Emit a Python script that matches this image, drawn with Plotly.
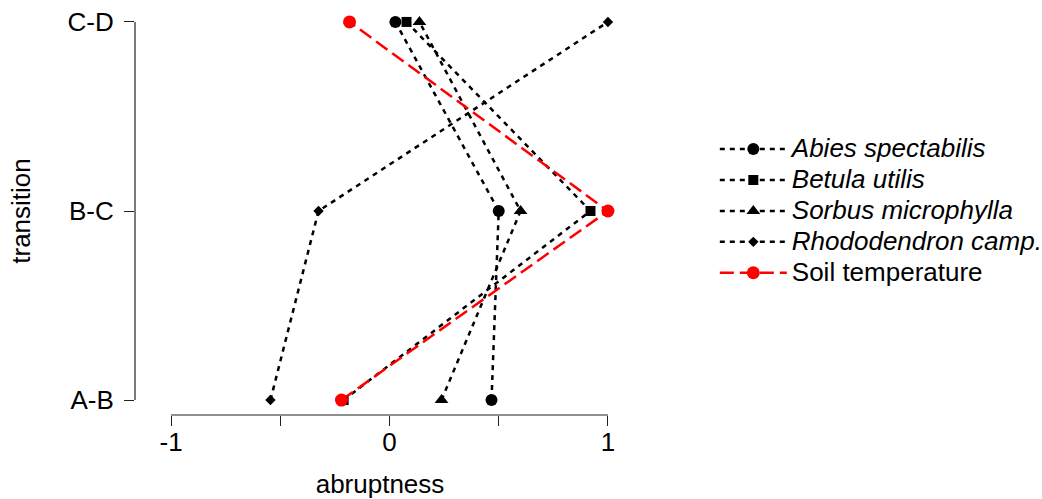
import plotly.graph_objects as go

# Transitions along the gradient (bottom to top)
transitions = ["A-B", "B-C", "C-D"]
trans_pos = [0, 1, 2]

# Abruptness of each transition per series
abies = [0.467, 0.50, 0.027]
betula = [-0.21, 0.92, 0.078]
sorbus = [0.238, 0.60, 0.137]
rhodo = [-0.545, -0.325, 1.0]
soil = [-0.22, 1.0, -0.183]

x_ticks = [-1, -0.5, 0, 0.5, 1]
x_tick_text = ["-1", "", "0", "", "1"]

FONT = "Liberation Sans, Arial, sans-serif"
FS = 26
BLACK_DASH = "5px,5px"
RED_DASH = "14px,6px"

series = [
    ("<i>Abies spectabilis</i>", abies, "circle", 12, "black", BLACK_DASH),
    ("<i>Betula utilis</i>", betula, "square", 10, "black", BLACK_DASH),
    ("<i>Sorbus microphylla</i>", sorbus, "triangle-up", 12, "black", BLACK_DASH),
    ("<i>Rhododendron camp.</i>", rhodo, "diamond", 8, "black", BLACK_DASH),
    ("Soil temperature", soil, "circle", 13, "red", RED_DASH),
]

fig = go.Figure()
for i, (name, vals, sym, size, col, dash) in enumerate(series):
    fig.add_trace(go.Scatter(
        x=vals, y=trans_pos, mode="lines+markers",
        name=f'<span style="font-size:{FS}px">{name}</span>',
        line=dict(color=col, width=2.5, dash=dash),
        marker=dict(symbol=sym, size=size, color=col, line=dict(width=0)),
        legendgroup=f"g{i}",
    ))

axis_col = "#222222"
# Axis lines spanning only the tick range
fig.add_shape(type="line", xref="x", yref="paper", x0=-1, x1=1, y0=0, y1=0,
              line=dict(color=axis_col, width=1.2))
fig.add_shape(type="line", xref="paper", yref="y", x0=0, x1=0, y0=0, y1=2,
              line=dict(color=axis_col, width=1.2))

fig.update_layout(
    width=1042, height=499,
    margin=dict(l=135, r=417, t=7, b=84),
    paper_bgcolor="white", plot_bgcolor="white",
    font=dict(family=FONT, size=FS, color="black"),
    legend=dict(
        xref="container", yref="container",
        x=0.686, y=1 - 128.5 / 499, xanchor="left", yanchor="top",
        font=dict(family=FONT, size=21.5, color="black"),
        tracegroupgap=0, itemwidth=67,
        bgcolor="rgba(0,0,0,0)",
    ),
    xaxis=dict(
        range=[-1.165, 1.078], tickvals=x_ticks, ticktext=x_tick_text,
        ticks="outside", ticklen=10, tickcolor=axis_col, tickwidth=1.2,
        showgrid=False, zeroline=False, showline=False, automargin=False,
        tickfont=dict(size=FS), ticklabelstandoff=-6,
        title=dict(text="abruptness", font=dict(size=FS), standoff=26),
    ),
    yaxis=dict(
        range=[-0.079, 2.079], tickvals=trans_pos, ticktext=transitions,
        ticks="outside", ticklen=10, tickcolor=axis_col, tickwidth=1.2,
        showgrid=False, zeroline=False, showline=False, automargin=False,
        tickfont=dict(size=FS), ticklabelstandoff=5,
        title=dict(text="transition", font=dict(size=FS), standoff=29),
    ),
)

fig.write_html("out.html")
